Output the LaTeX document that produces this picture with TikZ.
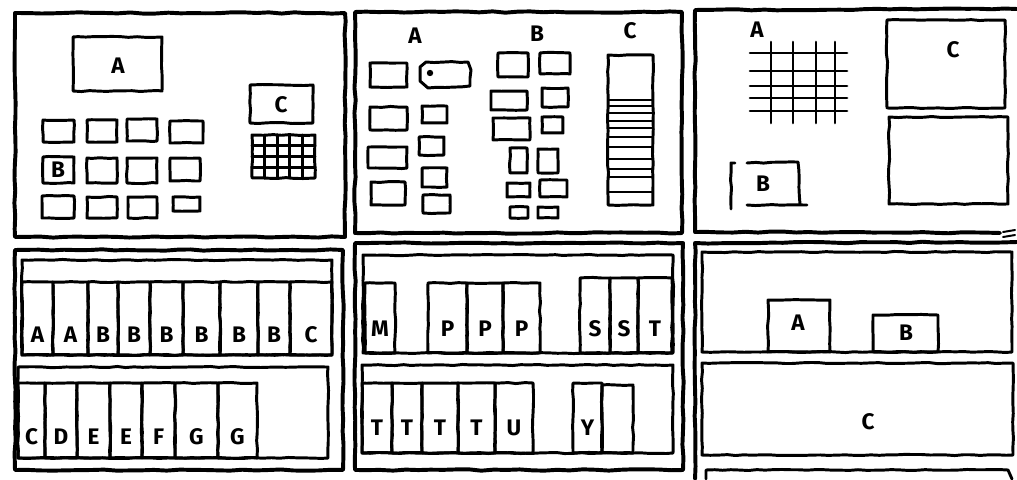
\documentclass[tikz,border=0pt]{standalone}
\usepackage{fontspec}
\setmainfont{Fira Sans}
\usetikzlibrary{decorations.pathmorphing}

\tikzset{
    rahmen/.style={draw, line width=2.8pt, line join=round, line cap=round,
        decorate, decoration={random steps, segment length=9pt, amplitude=0.5pt}},
    kasten/.style={draw, line width=2.1pt, line join=round, line cap=round,
        decorate, decoration={random steps, segment length=6pt, amplitude=0.4pt}},
    gitter/.style={draw, line width=1.9pt, line cap=round},
    schrift/.style={font=\fontsize{16}{19}\selectfont\bfseries, inner sep=0pt}
}

\begin{document}
\pgfmathsetseed{11}
\begin{tikzpicture}[x=0.025cm, y=-0.025cm]
    \useasboundingbox (0,0) rectangle (1017,479);

    % Wand 1
    \draw[rahmen] (15,13) rectangle (345,237);
    \draw[kasten] (73,37) rectangle (162,91);
    \node[schrift] (w1A) at (118,66) {A};
    \draw[kasten] (250,85) rectangle (313,123);
    \node[schrift] (w1C) at (281,105) {C};
    \draw[kasten] (252,135) rectangle (315,178);
    \foreach \x in {264.6,277.2,289.8,302.4}
        \draw[gitter] (\x,135) -- (\x,178);
    \foreach \y in {145.75,156.5,167.25}
        \draw[gitter] (252,\y) -- (315,\y);
    \foreach \a/\b/\c/\d in {43/120/74/142, 87/120/117/142, 127/119/157/141, 170/121/203/143,
        43/157/74/183, 87/158/117/183, 127/158/157/183, 170/158/200/181,
        42/196/74/218, 87/197/117/218, 128/197/157/218, 173/197/200/211}
        \draw[kasten] (\a,\b) rectangle (\c,\d);
    \node[schrift] (w1B) at (58,170) {B};

    % Wand 2
    \draw[rahmen] (355,12) rectangle (682,233);
    \node[schrift] (w2A) at (415,36) {A};
    \node[schrift] (w2B) at (537,34) {B};
    \node[schrift] (w2C) at (630,31) {C};
    \foreach \a/\b/\c/\d in {370/63/407/87, 370/107/407/130, 368/147/407/168, 371/182/405/205,
        422/106/447/123, 419/137/444/155, 422/168/447/187, 423/195/450/213,
        498/53/528/77, 491/91/527/110, 493/118/530/140, 510/148/527/173, 507/183/530/197, 510/207/528/218,
        540/53/570/74, 542/88/568/107, 542/117/563/133, 538/149/558/173, 540/180/567/197, 538/207/558/218}
        \draw[kasten] (\a,\b) rectangle (\c,\d);
    \draw[kasten] (420,67) -- (426,62) -- (468,62) -- (471,70) -- (470,86) -- (428,88) -- (420,81) -- cycle;
    \fill (430,73) circle (3.2);
    \draw[kasten] (608,55) rectangle (653,205);
    \foreach \y in {100,106,113,121,128,137,147,159,169,177,192}
        \draw[gitter, line width=1.4pt] (608,\y) -- (653,\y);

    % Wand 3
    \draw[rahmen] (1017,9) -- (695,10) -- (695,232) -- (1000,233);
    \draw[gitter, line width=1.4pt] (1003,232) -- (1015,230) (1003,237) -- (1015,235);
    \node[schrift] (w3A) at (757,30) {A};
    \foreach \y in {53,71,86,98,111}
        \draw[gitter] (750,\y) -- (847,\y);
    \foreach \x in {771,793,816,835}
        \draw[gitter] (\x,42) -- (\x,123);
    \draw[kasten] (735,163) -- (731,163) -- (731,205) -- (735,205);
    \draw[kasten] (747,163) -- (798,162) -- (800,204);
    \draw[kasten] (747,205) -- (807,205);
    \node[schrift] (w3B) at (763,184) {B};
    \draw[kasten] (887,20) rectangle (1005,108);
    \node[schrift] (w3C) at (953,50) {C};
    \draw[kasten] (889,117) rectangle (1008,204);

    % Regal 1
    \draw[rahmen] (15,250) rectangle (343,470);
    \draw[kasten] (22,260) rectangle (332,355);
    \foreach \a/\b/\l [count=\i] in {22/53/A, 53/88/A, 88/118/B, 118/150/B, 150/183/B,
        183/220/B, 220/258/B, 258/290/B, 290/332/C} {
        \draw[kasten] (\a,282) rectangle (\b,355);
        \node[schrift] (r1o\i) at ({(\a+\b)/2},335) {\l};
    }
    \draw[kasten] (18,367) rectangle (328,458);
    \foreach \a/\b/\l [count=\i] in {18/45/C, 45/77/D, 77/110/E, 110/142/E, 142/175/F,
        175/218/G, 218/257/G} {
        \draw[kasten] (\a,383) rectangle (\b,458);
        \node[schrift] (r1u\i) at ({(\a+\b)/2},437) {\l};
    }

    % Regal 2
    \draw[rahmen] (355,243) rectangle (683,470);
    \draw[kasten] (363,255) rectangle (673,353);
    \foreach \a/\b/\t/\l [count=\i] in {365/395/283/M, 428/467/283/P, 467/503/283/P,
        503/540/283/P, 580/610/278/S, 610/638/278/S, 638/672/278/T} {
        \draw[kasten] (\a,\t) rectangle (\b,353);
        \node[schrift] (r2o\i) at ({(\a+\b)/2},329) {\l};
    }
    \draw[kasten] (362,365) rectangle (673,453);
    \foreach \a/\b/\l [count=\i] in {362/392/T, 392/422/T, 422/458/T, 458/495/T,
        495/533/U, 573/602/Y} {
        \draw[kasten] (\a,383) rectangle (\b,453);
        \node[schrift] (r2u\i) at ({(\a+\b)/2},428) {\l};
    }
    \draw[kasten] (602,385) rectangle (633,453);

    % Regal 3
    \draw[rahmen] (695,479) -- (695,243) -- (1017,242);
    \draw[kasten] (702,252) rectangle (1012,352);
    \draw[kasten] (768,300) rectangle (830,352);
    \node[schrift] (r3A) at (798,323) {A};
    \draw[kasten] (873,315) rectangle (938,352);
    \node[schrift] (r3B) at (906,333) {B};
    \draw[kasten] (702,363) rectangle (1013,455);
    \node[schrift] (r3C) at (868,422) {C};
    \draw[kasten] (706,479) -- (706,470) -- (1008,470) -- (1012,479);
\end{tikzpicture}
\end{document}
